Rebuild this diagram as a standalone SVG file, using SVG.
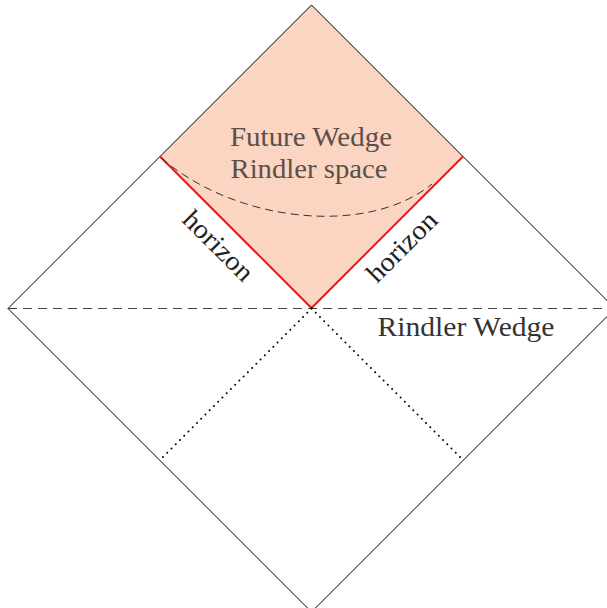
<svg xmlns="http://www.w3.org/2000/svg" width="607" height="608" viewBox="0 0 607 608">
<style>
.edge{fill:none;stroke:#000;stroke-width:1}
.lbl{font-family:"Liberation Serif","DejaVu Serif",serif;font-size:27px;text-anchor:middle}
</style>
<rect width="607" height="608" fill="#fff"/>
<g id="future-wedge">
<polygon points="311.5,5 160,156.5 311.5,308 463,156.5" fill="#fbd4c2"/>
<text class="lbl" x="311" y="146" fill="#5a4f4b" textLength="162" lengthAdjust="spacingAndGlyphs">Future Wedge</text>
<text class="lbl" x="309" y="178" fill="#5a4f4b" textLength="157" lengthAdjust="spacingAndGlyphs">Rindler space</text>
</g>
<g id="diamond">
<polygon class="edge" points="311.5,5 8,308.5 311.5,612 615,308.5"/>
</g>
<g id="connectors">
<polyline points="160,156.5 311.5,308 463,156.5" fill="none" stroke="#e41a1c" stroke-width="2"/>
<line x1="8" y1="308.5" x2="607" y2="308.5" stroke="#444" stroke-width="1.2" stroke-dasharray="9,6"/>
<path d="M161,158 C240,225 370,235 432,184" fill="none" stroke="#333" stroke-width="1" stroke-dasharray="8,5"/>
<line x1="311.5" y1="308.5" x2="160" y2="460" stroke="#000" stroke-width="2" stroke-linecap="round" stroke-dasharray="0,6"/>
<line x1="311.5" y1="308.5" x2="463" y2="460" stroke="#000" stroke-width="2" stroke-linecap="round" stroke-dasharray="0,6"/>
</g>
<g id="labels">
<text class="lbl" fill="#222" textLength="88" lengthAdjust="spacingAndGlyphs" transform="translate(212,252) rotate(45)">horizon</text>
<text class="lbl" fill="#222" textLength="88" lengthAdjust="spacingAndGlyphs" transform="translate(408,253) rotate(-45)">horizon</text>
<text class="lbl" x="466" y="336" fill="#333" textLength="177" lengthAdjust="spacingAndGlyphs">Rindler Wedge</text>
</g>
</svg>
